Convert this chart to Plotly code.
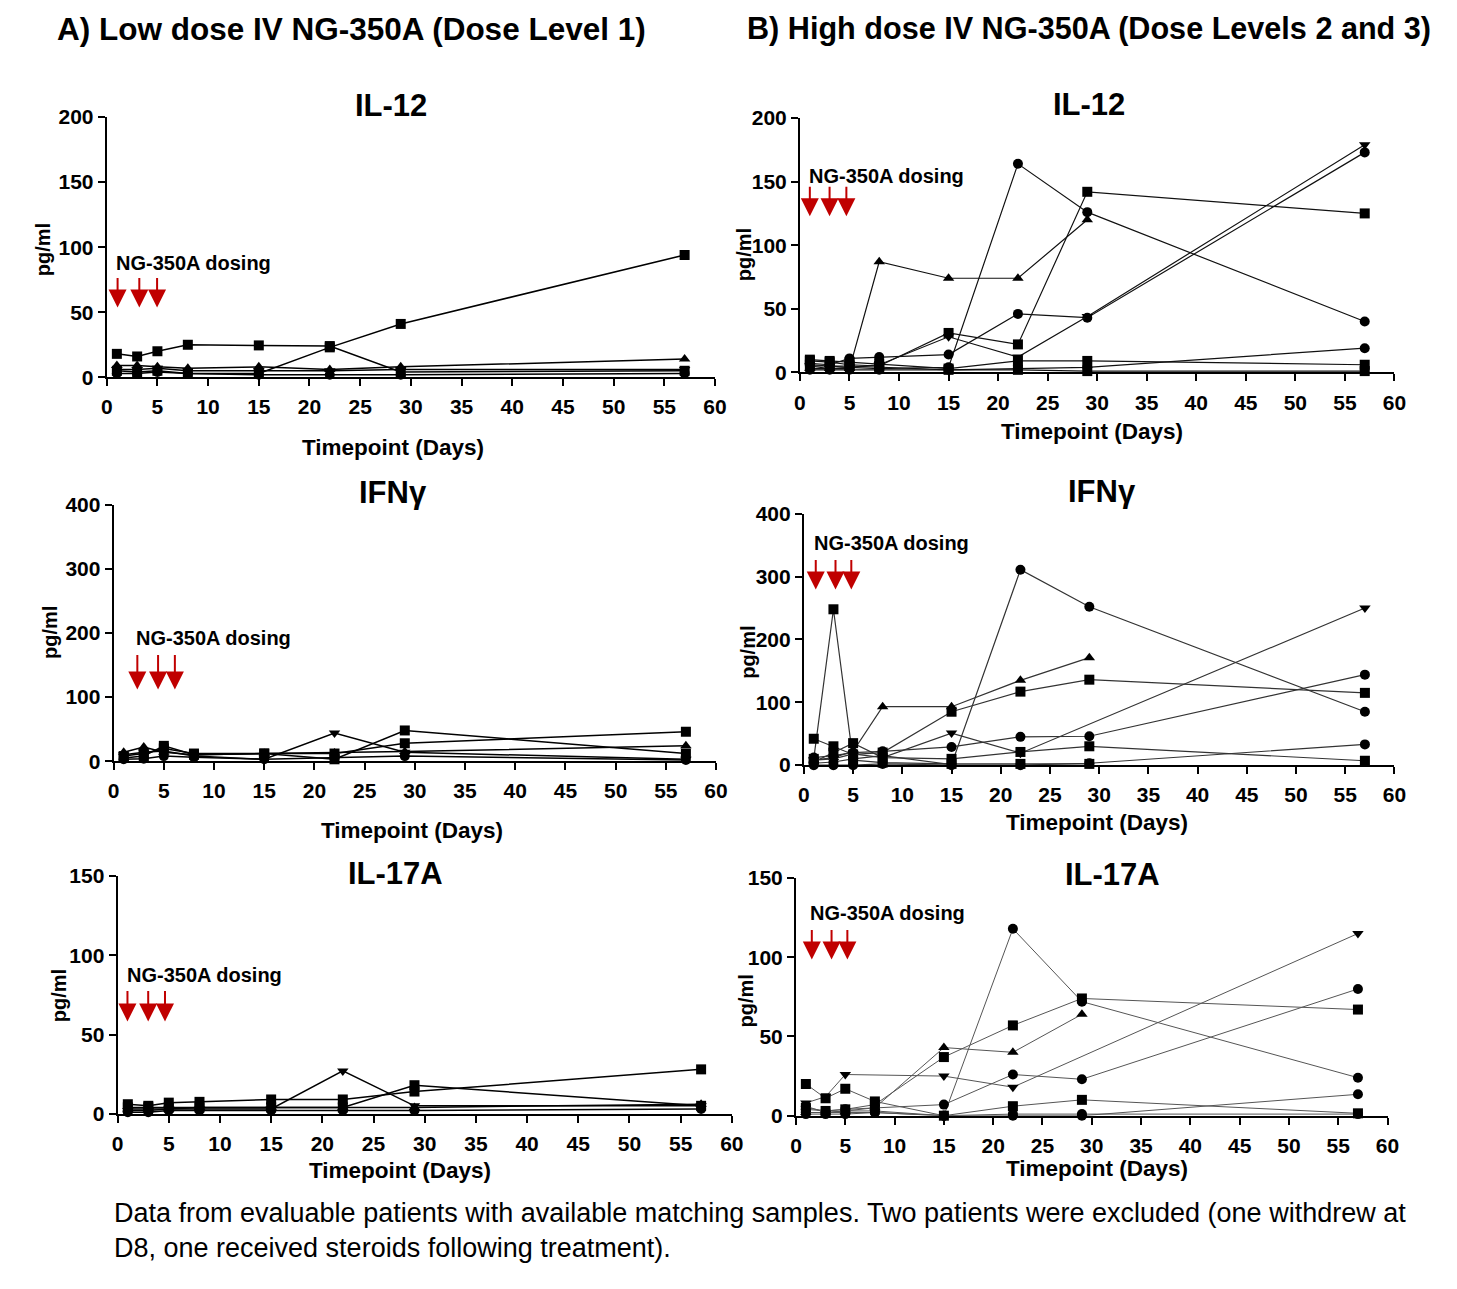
import plotly.graph_objects as go

# page body keeps an 8px margin, so the figure is 16px smaller and shifted
W_REF, H_REF = 1457, 1289
PAD = 8
W, H = W_REF - 2 * PAD, H_REF - 2 * PAD
FONT = "Liberation Sans, Arial, Helvetica, sans-serif"

days = [1, 3, 5, 8, 15, 22, 29, 57]

# ---- IL-12, low dose (Dose Level 1) ----
il12_low = [
    [18, 16, 20, 25, 24.5, 24, 4, 5],
    [5, 4, 5, 3, 3, 23, 41, 94],
    [9, 9, 8, 7, 8, 6, 8, 14],
    [6, 6, 7, 5, 5, 5, 6, 6],
    [3, 3, 4, 3, 2, 2, 2, 3],
]
il12_low_sym = ["square", "square", "triangle-up", "triangle-down", "circle"]

# ---- IL-12, high dose (Dose Levels 2 and 3) ----
il12_high = [
    [5, 5, 4, 3, 4, 164, 126, 40],
    [9, 8, 6, 5, 31, 22, 142, 125],
    [3, 3, 3, 87, 74, 74, 120, None],
    [7, 6, 11, 12, 14, 46, 43, 173],
    [5, 3, 4, 6, 28, 12, 44, 179],
    [2, 2, 2, 2, 2, 3, 4, 19],
    [10, 9, 8, 7, 3, 9, 9, 6],
    [6, 5, 5, 4, 2, 2, 1, 1],
]
il12_high_sym = ["circle", "square", "triangle-up", "circle", "triangle-down",
                 "circle", "square", "square"]

# ---- IFNγ, low dose ----
ifng_low = [
    [8, 12, 20, 12, 12, 12, 28, 46],
    [10, 14, 16, 8, 3, 44, 14, 3],
    [14, 22, 14, 10, 12, 13, 15, 24],
    [5, 8, 24, 10, 12, 3, 48, 12],
    [3, 4, 8, 6, 3, 5, 8, 2],
]
ifng_low_sym = ["square", "triangle-down", "triangle-up", "square", "circle"]

# ---- IFNγ, high dose ----
ifng_high = [
    [3, 5, 10, 15, 1, 311, 252, 85],
    [10, 248, 8, 4, 2, 2, 2, None],
    [42, 30, 17, 20, 85, 117, 136, 115],
    [8, 12, 22, 93, 93, 135, 171, None],
    [8, 10, 18, 12, 51, 19, None, 250],
    [12, 15, 20, 22, 29, 45, 46, 144],
    [5, 20, 35, 12, 10, 21, 30, 7],
    [0, 0, 0, 2, 0, 0, 3, 33],
]
ifng_high_sym = ["circle", "square", "square", "triangle-up", "triangle-down",
                 "circle", "square", "circle"]

# ---- IL-17A, low dose ----
il17_low = [
    [6, 5, 7, 7.5, 9, 9, 14, 28],
    [2, 2, 3, 3, 3, 27, 5, 5],
    [4, 4, 4, 4, 4, 4, 18, 5],
    [3, 3, 3, 4, 4, 4, 4, 6],
    [1, 1, 2, 2, 2, 2, 2, 3],
]
il17_low_sym = ["square", "triangle-down", "square", "triangle-up", "circle"]

# ---- IL-17A, high dose ----
il17_high = [
    [2, 2, 3, 3, 0, 118, 72, 24],
    [8, 12, 26, None, 25, 18, None, 115],
    [5, 3, 4, 7, 37, 57, 74, 67],
    [2, 2, 3, 5, 43, 40, 64, None],
    [4, 3, 4, 5, 7, 26, 23, 80],
    [1, 1, 1, 2, 0, 0, 0, 13.5],
    [20, 11, 17, 9, 0, 6, 10, 1.5],
    [6, 2, 2, 2, 0, 1, 1, 1],
]
il17_high_sym = ["circle", "triangle-down", "square", "triangle-up", "circle",
                 "circle", "square", "circle"]

# panel layout (pixel geometry in reference coordinates)
panels = [
    dict(data=il12_low, sym=il12_low_sym, px=(110, 726), py=(115, 380), ymax=200, dt=50,
         title="IL-12", tpos=(398, 103), xt=(400, 452), yt=(45, 250),
         arrows=[121, 143, 161], ay=(278, 309), lab=(117, 264), lc="#000", lw=1.5),
    dict(data=il12_high, sym=il12_high_sym, px=(812, 1414), py=(116, 375), ymax=200, dt=50,
         title="IL-12", tpos=(1105, 102), xt=(1108, 435), yt=(755, 255),
         arrows=[822, 842, 859], ay=(185, 216), lab=(819, 175), lc="#111", lw=1.2),
    dict(data=ifng_low, sym=ifng_low_sym, px=(117, 727), py=(510, 771), ymax=400, dt=100,
         title="IFNγ", tpos=(400, 497), xt=(419, 842), yt=(52, 640),
         arrows=[141, 162, 179], ay=(662, 698), lab=(138, 646), lc="#000", lw=1.5),
    dict(data=ifng_high, sym=ifng_high_sym, px=(816, 1414), py=(519, 775), ymax=400, dt=100,
         title="IFNγ", tpos=(1118, 496), xt=(1113, 833), yt=(760, 660),
         arrows=[828, 848, 864], ay=(565, 596), lab=(824, 549), lc="#333", lw=1.2),
    dict(data=il17_low, sym=il17_low_sym, px=(121, 743), py=(888, 1130), ymax=150, dt=50,
         title="IL-17A", tpos=(402, 885), xt=(407, 1188), yt=(62, 1010),
         arrows=[131, 152, 169], ay=(1004, 1036), lab=(129, 989), lc="#000", lw=1.5),
    dict(data=il17_high, sym=il17_high_sym, px=(808, 1407), py=(890, 1132), ymax=150, dt=50,
         title="IL-17A", tpos=(1128, 886), xt=(1113, 1186), yt=(757, 1015),
         arrows=[824, 844, 860], ay=(942, 973), lab=(820, 926), lc="#555", lw=1.0),
]


def fx(p):
    return (p - PAD) / W


def fy(p):
    return 1 - (p - PAD) / H


fig = go.Figure()
annotations = []
layout_axes = {}

for i, p in enumerate(panels):
    n = i + 1
    xa = "x" if n == 1 else f"x{n}"
    ya = "y" if n == 1 else f"y{n}"
    for series, sym in zip(p["data"], p["sym"]):
        fig.add_trace(go.Scatter(
            x=days, y=series, mode="lines+markers", xaxis=xa, yaxis=ya,
            connectgaps=True, cliponaxis=False, showlegend=False,
            line=dict(color=p["lc"], width=p["lw"]),
            marker=dict(symbol=sym, size=10, color="#000"),
        ))
    axis_common = dict(showline=True, linecolor="#000", linewidth=2, showgrid=False,
                       zeroline=False, ticks="outside", ticklen=7, tickwidth=2,
                       tickcolor="#000",
                       tickfont=dict(family=FONT, size=21, color="#000", weight="bold"))
    layout_axes["xaxis" if n == 1 else f"xaxis{n}"] = dict(
        domain=[fx(p["px"][0]), fx(p["px"][1])], range=[0, 60], dtick=5, tick0=0,
        anchor=ya, ticklabelstandoff=3, **axis_common)
    layout_axes["yaxis" if n == 1 else f"yaxis{n}"] = dict(
        domain=[fy(p["py"][1]), fy(p["py"][0])], range=[0, p["ymax"]], dtick=p["dt"], tick0=0,
        anchor=xa, ticklabelstandoff=0, **axis_common)

    annotations.append(dict(text=p["title"], x=fx(p["tpos"][0]), y=fy(p["tpos"][1]),
                            xref="paper", yref="paper", showarrow=False,
                            xanchor="center", yanchor="middle",
                            font=dict(family=FONT, size=31, color="#000", weight="bold")))
    annotations.append(dict(text="Timepoint (Days)", x=fx(p["xt"][0]), y=fy(p["xt"][1]),
                            xref="paper", yref="paper", showarrow=False,
                            xanchor="center", yanchor="middle",
                            font=dict(family=FONT, size=22.5, color="#000", weight="bold")))
    annotations.append(dict(text="pg/ml", x=fx(p["yt"][0]), y=fy(p["yt"][1]),
                            xref="paper", yref="paper", showarrow=False, textangle=-90,
                            xanchor="center", yanchor="middle",
                            font=dict(family=FONT, size=20, color="#000", weight="bold")))
    annotations.append(dict(text="NG-350A dosing", x=fx(p["lab"][0]), y=fy(p["lab"][1]),
                            xref="paper", yref="paper", showarrow=False,
                            xanchor="left", yanchor="middle",
                            font=dict(family=FONT, size=20, color="#000", weight="bold")))
    for ax_px in p["arrows"]:
        annotations.append(dict(text="", x=fx(ax_px), y=fy(p["ay"][1]),
                                xref="paper", yref="paper", showarrow=True,
                                ax=0, ay=-(p["ay"][1] - p["ay"][0]),
                                arrowhead=2, arrowsize=1.8, arrowwidth=2,
                                arrowcolor="#C00000"))

annotations.append(dict(text="A) Low dose IV NG-350A (Dose Level 1)", x=fx(58), y=fy(25),
                        xref="paper", yref="paper", showarrow=False,
                        xanchor="left", yanchor="middle",
                        font=dict(family=FONT, size=31.5, color="#000", weight="bold")))
annotations.append(dict(text="B) High dose IV NG-350A (Dose Levels 2 and 3)", x=fx(756), y=fy(25),
                        xref="paper", yref="paper", showarrow=False,
                        xanchor="left", yanchor="middle",
                        font=dict(family=FONT, size=30.6, color="#000", weight="bold")))
annotations.append(dict(text="Data from evaluable patients with available matching samples. "
                             "Two patients were excluded (one withdrew at<br>D8, one received "
                             "steroids following treatment).",
                        x=fx(115), y=fy(1249), xref="paper", yref="paper", showarrow=False,
                        xanchor="left", yanchor="middle", align="left",
                        font=dict(family=FONT, size=27, color="#000")))

fig.update_layout(width=W, height=H, margin=dict(l=0, r=0, t=0, b=0),
                  paper_bgcolor="white", plot_bgcolor="white",
                  annotations=annotations, **layout_axes)

fig.write_html("out.html")
